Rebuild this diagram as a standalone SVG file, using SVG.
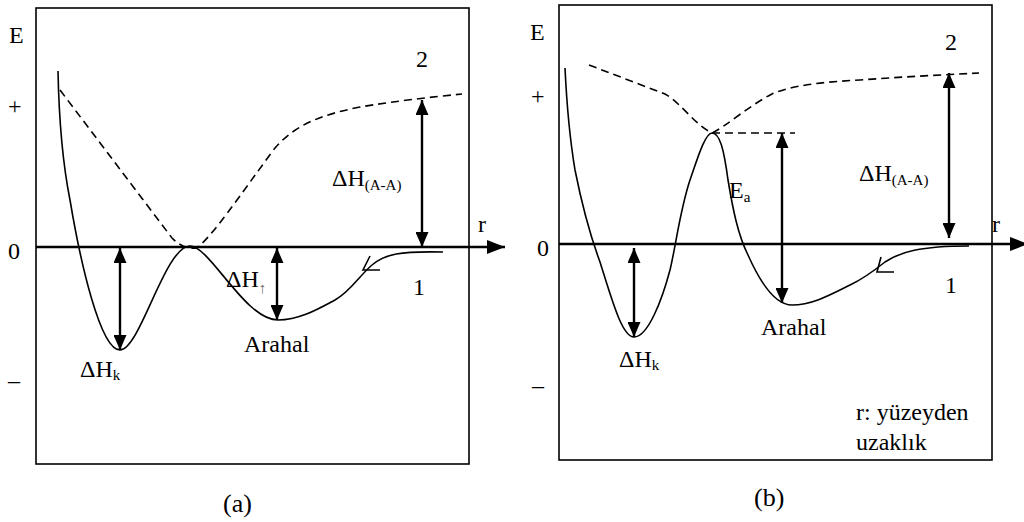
<svg xmlns="http://www.w3.org/2000/svg" width="1024" height="522" viewBox="0 0 1024 522">
<style>
.box{fill:none;stroke:#000;stroke-width:1.6}
.axis{fill:none;stroke:#000;stroke-width:2.4}
.curve{fill:none;stroke:#000;stroke-width:1.6}
.dash{fill:none;stroke:#000;stroke-width:1.6;stroke-dasharray:8 5}
.dbl{fill:none;stroke:#000;stroke-width:2.4}
.t{font-family:'Liberation Serif','Times New Roman','DejaVu Serif',serif;font-size:24px;fill:#000}
.sub{font-size:15px}
.cap{font-size:26px}
</style>
<defs>
<marker id="ah" viewBox="0 0 15 13" refX="15" refY="6.5" markerWidth="15" markerHeight="13" markerUnits="userSpaceOnUse" orient="auto-start-reverse">
<path d="M0,0 L15,6.5 L0,13 z" fill="#000"/>
</marker>
<marker id="ax" viewBox="0 0 18 14" refX="18" refY="7" markerWidth="18" markerHeight="14" markerUnits="userSpaceOnUse" orient="auto">
<path d="M0,0 L18,7 L0,14 z" fill="#000"/>
</marker>
</defs>

<g id="panel-a">
<rect class="box" x="36" y="8" width="433" height="456"/>
<g id="labels-a" class="t" font-family="Liberation Serif, Times New Roman, DejaVu Serif, serif">
<text x="9" y="43">E</text>
<text x="8" y="114">+</text>
<text x="8" y="259">0</text>
<text x="8" y="388">–</text>
<text x="416" y="67">2</text>
<text x="478" y="232">r</text>
<text x="332" y="186">ΔH<tspan class="sub" dy="4">(A-A)</tspan></text>
<text x="80" y="377">ΔH<tspan class="sub" dy="3">k</tspan></text>
<text x="226" y="287">ΔH<tspan class="sub" dy="6" fill="#666">↑</tspan></text>
<text x="244" y="352">Arahal</text>
<text x="413" y="295">1</text>
<text class="cap" x="223" y="512">(a)</text>
</g>
<g id="curves-a">
<path class="dash" d="M60,90 L172,238 C180,246 188,249 196,248 C210,240 240,195 275,148 C295,125 320,115 360,107 C390,102 430,97 462,94"/>
<path class="curve" d="M58,71 C59,120 62,160 70,200 C80,260 100,350 120,350 C140,350 165,246 190,246 C210,246 245,320 278,320 C300,320 320,308 335,300 C350,292 360,275 372,265 C385,254 400,251 443,252"/>
<polyline class="curve" points="370,256 363,270 380,270"/>
</g>
</g>

<g id="panel-b">
<rect class="box" x="559" y="5" width="433" height="455"/>
<g id="labels-b" class="t" font-family="Liberation Serif, Times New Roman, DejaVu Serif, serif">
<text x="530" y="40">E</text>
<text x="531" y="104">+</text>
<text x="537" y="256">0</text>
<text x="532" y="393">–</text>
<text x="945" y="50">2</text>
<text x="992" y="232">r</text>
<text x="859" y="181">ΔH<tspan class="sub" dy="4">(A-A)</tspan></text>
<text x="729" y="198">E<tspan class="sub" dy="4">a</tspan></text>
<text x="619" y="367">ΔH<tspan class="sub" dy="3">k</tspan></text>
<text x="761" y="335">Arahal</text>
<text x="945" y="293">1</text>
<text x="856" y="420">r: yüzeyden</text>
<text x="856" y="450">uzaklık</text>
<text class="cap" x="754" y="506">(b)</text>
</g>
<g id="curves-b">
<path class="dash" d="M589,65 L665,94 C680,102 695,125 712,133 C725,127 750,105 772,94 C790,86 820,82 860,80 C900,77 940,75 979,73"/>
<path class="dash" d="M712,133 L795,133"/>
<path class="curve" d="M565,68 C567,110 570,140 575,170 C582,205 590,235 600,262 C612,300 622,337 634,337 C648,337 662,300 670,270 C676,245 680,210 690,180 C697,160 705,133 712,133 C720,133 724,150 728,180 C733,210 738,235 748,255 C760,282 775,305 792,305 C812,305 830,295 850,285 C865,278 875,270 885,262 C900,252 920,246 969,246"/>
<polyline class="curve" points="881,257 877,272 894,272"/>
</g>
</g>

<g id="connectors">
<line class="axis" x1="36" y1="247" x2="505" y2="247" marker-end="url(#ax)"/>
<line class="axis" x1="559" y1="244" x2="1028" y2="244" marker-end="url(#ax)"/>
<line class="dbl" x1="422" y1="100" x2="422" y2="247" marker-start="url(#ah)" marker-end="url(#ah)"/>
<line class="dbl" x1="120" y1="248" x2="120" y2="350" marker-start="url(#ah)" marker-end="url(#ah)"/>
<line class="dbl" x1="277" y1="248" x2="277" y2="320" marker-start="url(#ah)" marker-end="url(#ah)"/>
<line class="dbl" x1="949" y1="73" x2="949" y2="238" marker-start="url(#ah)" marker-end="url(#ah)"/>
<line class="dbl" x1="782" y1="133" x2="782" y2="303" marker-start="url(#ah)" marker-end="url(#ah)"/>
<line class="dbl" x1="634" y1="248" x2="634" y2="337" marker-start="url(#ah)" marker-end="url(#ah)"/>
</g>
</svg>
